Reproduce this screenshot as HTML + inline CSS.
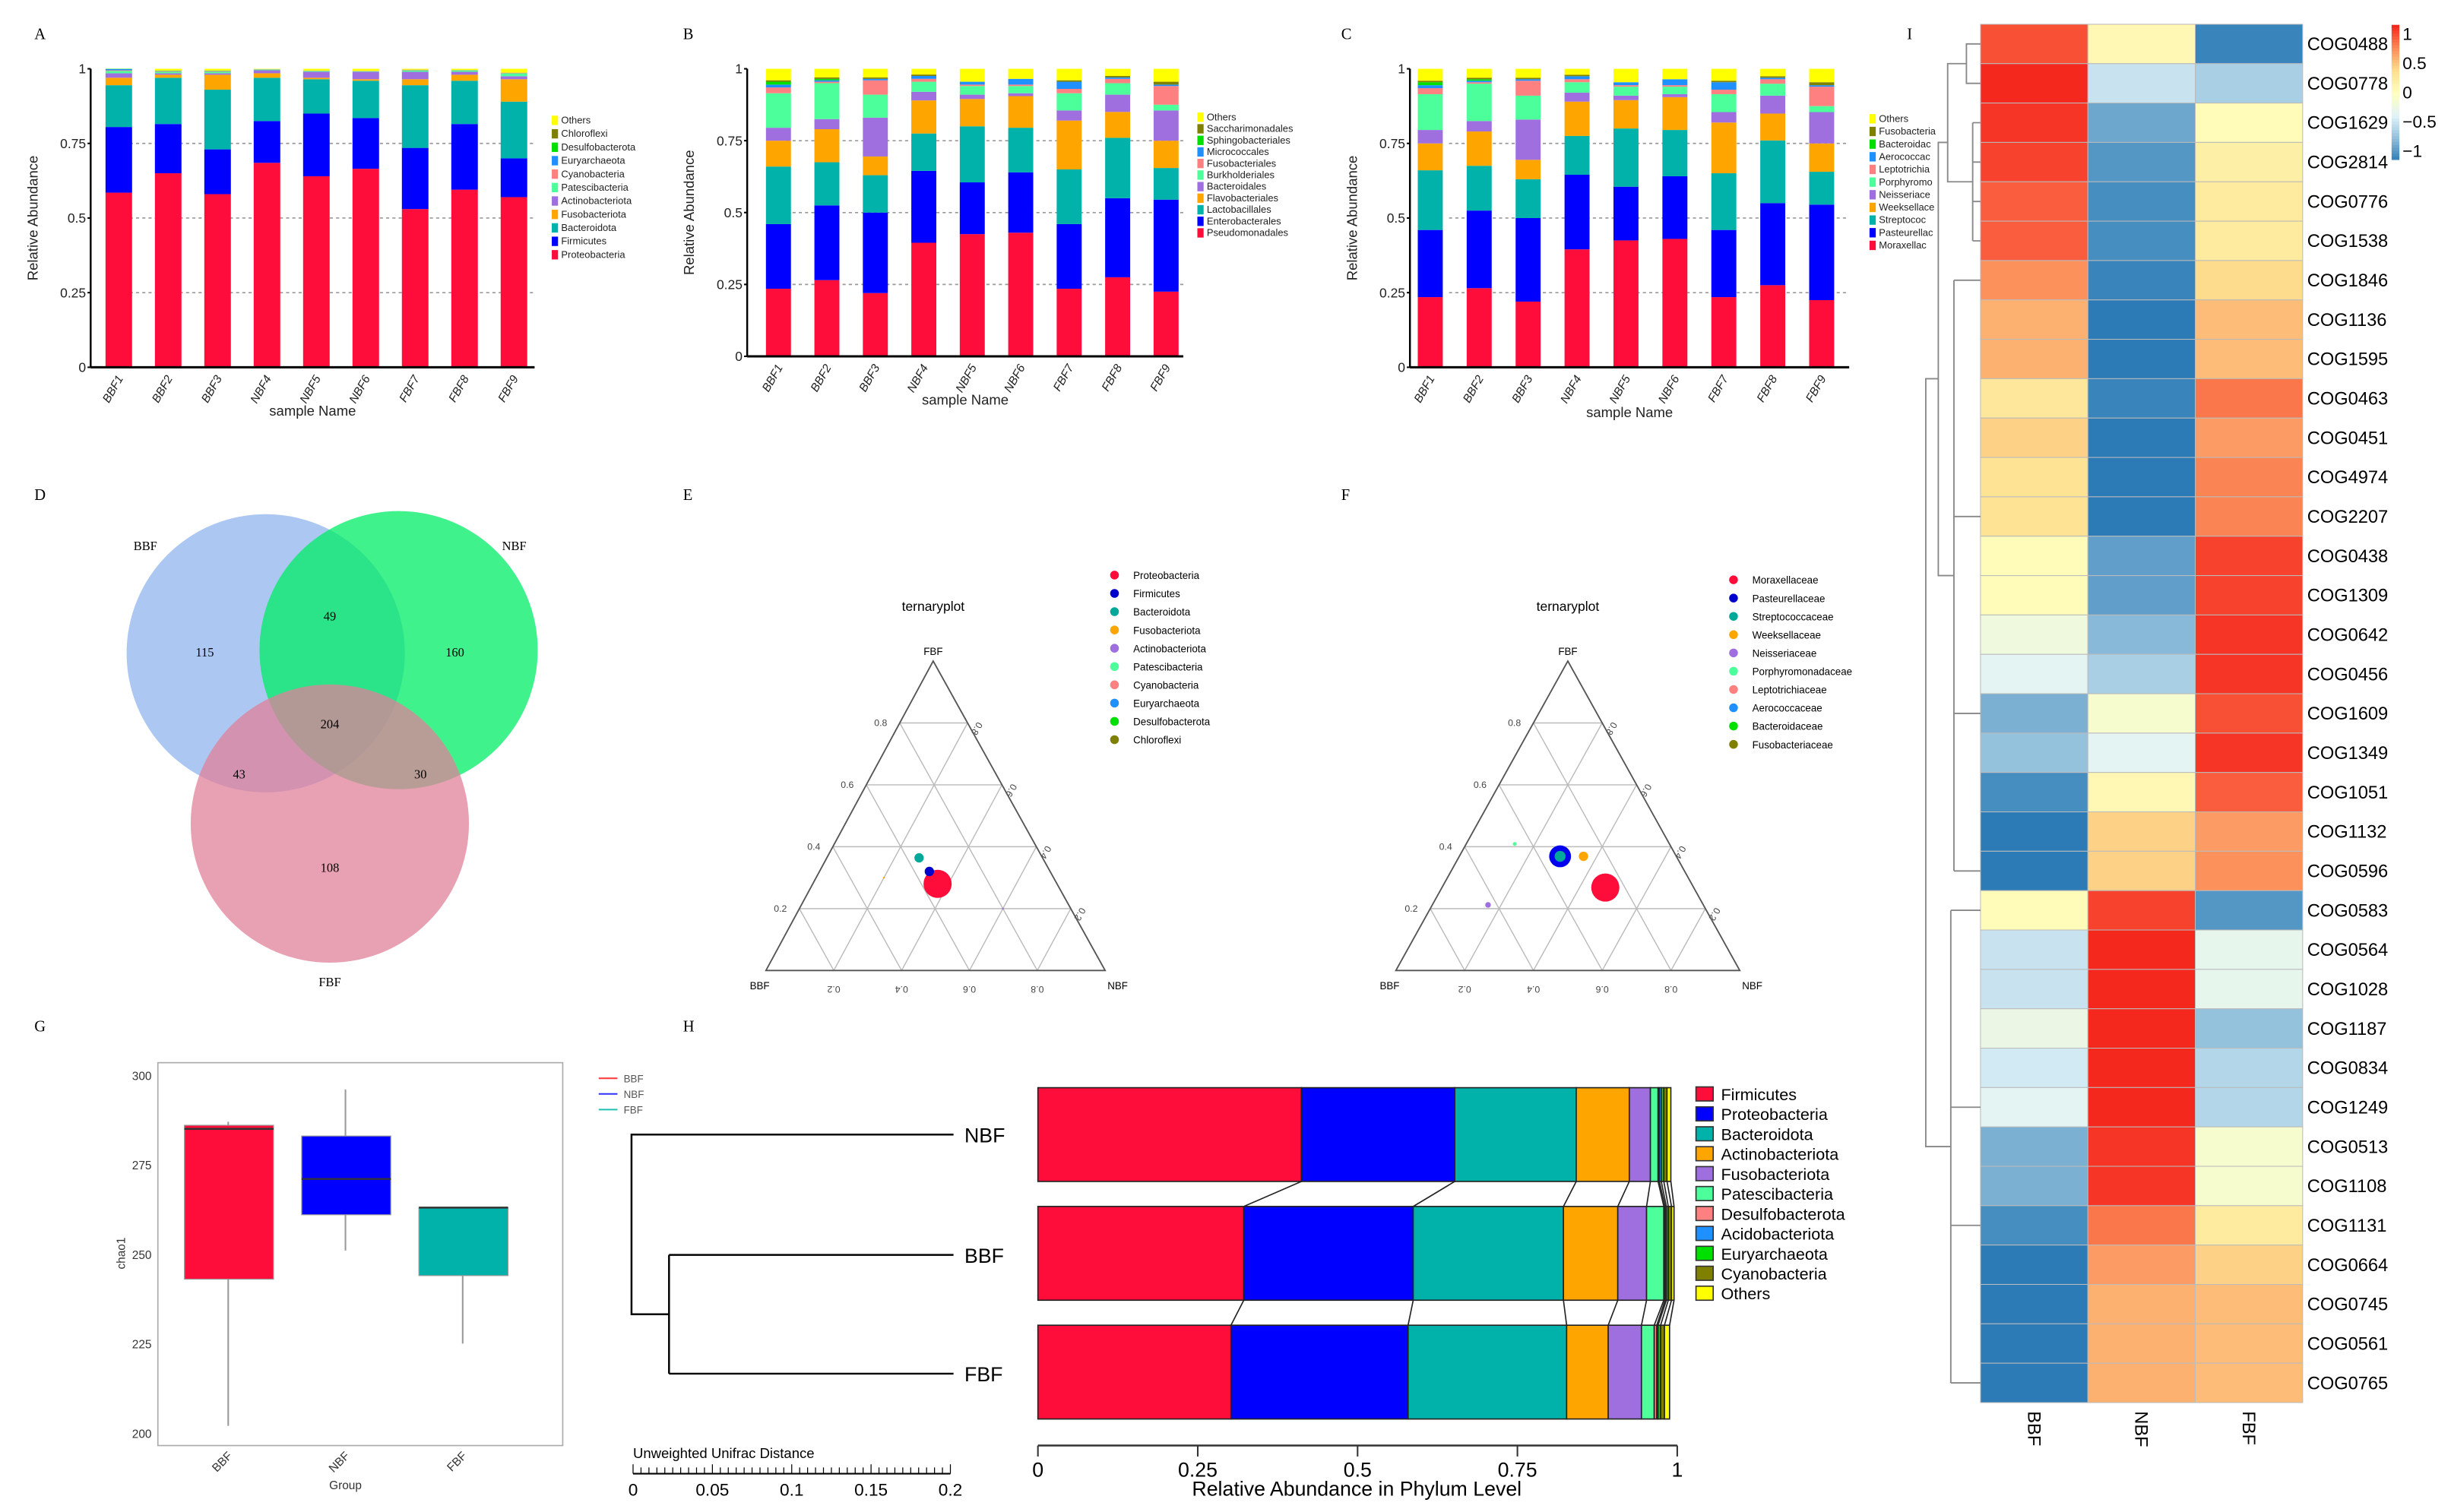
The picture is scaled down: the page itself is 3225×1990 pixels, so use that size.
<!DOCTYPE html>
<html><head><meta charset="utf-8">
<style>
html,body{margin:0;padding:0;background:#fff;}
svg{display:block;font-family:"Liberation Sans",sans-serif;}
</style></head>
<body>
<svg id="fig" xmlns="http://www.w3.org/2000/svg" width="3225" height="1990" viewBox="0 0 1568 967.5">
<rect width="1568" height="967.5" fill="#fff"/>
<g font-family="Liberation Serif,serif" font-size="10">
<text x="22" y="25">A</text>
<text x="437" y="25">B</text>
<text x="858" y="25">C</text>
<text x="1220" y="25">I</text>
<text x="22" y="320">D</text>
<text x="437" y="320">E</text>
<text x="858" y="320">F</text>
<text x="22" y="660">G</text>
<text x="437" y="660">H</text>
</g>
<g id="root"></g>
</svg>
<script>
// ---------- DATA ----------
const samples = ["BBF1","BBF2","BBF3","NBF4","NBF5","NBF6","FBF7","FBF8","FBF9"];
const phylaA = ["Proteobacteria","Firmicutes","Bacteroidota","Fusobacteriota","Actinobacteriota","Patescibacteria","Cyanobacteria","Euryarchaeota","Desulfobacterota","Chloroflexi","Others"];
const colorsA = ["#ff0d3a","#0000ff","#00b2a9","#ffa500","#9f6fdf","#4dff9a","#ff8080","#1e90ff","#00e000","#808000","#ffff00"];
const valuesA = [
 [0.585,0.22,0.14,0.025,0.015,0.008,0.002,0.004,0.001,0.0],
 [0.65,0.165,0.155,0.01,0.005,0.005,0.002,0.001,0.001,0.0],
 [0.58,0.15,0.20,0.05,0.005,0.005,0.002,0.001,0.001,0.0],
 [0.685,0.14,0.145,0.015,0.01,0.003,0.001,0.0,0.0,0.0],
 [0.64,0.21,0.115,0.005,0.02,0.003,0.001,0.0,0.0,0.0],
 [0.665,0.17,0.125,0.005,0.025,0.002,0.001,0.0,0.0,0.0],
 [0.53,0.205,0.21,0.02,0.025,0.005,0.002,0.0,0.0,0.0],
 [0.595,0.22,0.145,0.02,0.01,0.005,0.001,0.0,0.0,0.0],
 [0.57,0.13,0.19,0.075,0.01,0.01,0.002,0.0,0.0,0.0]];
const ordersB = ["Pseudomonadales","Enterobacterales","Lactobacillales","Flavobacteriales","Bacteroidales","Burkholderiales","Fusobacteriales","Micrococcales","Sphingobacteriales","Saccharimonadales","Others"];
const familiesC = ["Moraxellac","Pasteurellac","Streptococ","Weeksellace","Neisseriace","Porphyromo","Leptotrichia","Aerococcac","Bacteroidac","Fusobacteria","Others"];
const colorsB = ["#ff0d3a","#0000ff","#00b2a9","#ffa500","#9f6fdf","#4dff9a","#ff8080","#1e90ff","#00e000","#808000","#ffff00"];
const valuesB = [
 [0.235,0.225,0.20,0.09,0.045,0.12,0.02,0.01,0.01,0.005],
 [0.265,0.26,0.15,0.115,0.035,0.125,0.005,0.005,0.005,0.005],
 [0.22,0.28,0.13,0.065,0.135,0.08,0.05,0.005,0.0,0.005],
 [0.395,0.25,0.13,0.115,0.03,0.035,0.01,0.01,0.0,0.005],
 [0.425,0.18,0.195,0.095,0.015,0.03,0.005,0.01,0.0,0.0],
 [0.43,0.21,0.155,0.11,0.01,0.025,0.005,0.02,0.0,0.0],
 [0.235,0.225,0.19,0.17,0.035,0.06,0.015,0.025,0.0,0.005],
 [0.275,0.275,0.21,0.09,0.06,0.04,0.015,0.005,0.0,0.005],
 [0.225,0.32,0.11,0.095,0.105,0.02,0.065,0.005,0.0,0.01]];
const yTicks = [0,0.25,0.5,0.75,1];
const yTickLabels = ["0","0.25","0.5","0.75","1"];
// Venn
const vennLabels = ["115","49","160","204","43","30","108"];
// Ternary E
const ternLegendE = ["Proteobacteria","Firmicutes","Bacteroidota","Fusobacteriota","Actinobacteriota","Patescibacteria","Cyanobacteria","Euryarchaeota","Desulfobacterota","Chloroflexi"];
const ternColorsE = ["#ff0d3a","#0000cc","#00a89a","#ffa500","#9f6fdf","#4dff9a","#ff8080","#1e90ff","#00e000","#808000"];
// [BBF, NBF, FBF] fractions and size
const ternPtsE = [[0.352,0.368,0.28,9],[0.356,0.324,0.32,3],[0.364,0.272,0.364,3],[0.5,0.2,0.3,0.6],[0.2,0.6,0.2,0.6]];
const ternLegendF = ["Moraxellaceae","Pasteurellaceae","Streptococcaceae","Weeksellaceae","Neisseriaceae","Porphyromonadaceae","Leptotrichiaceae","Aerococcaceae","Bacteroidaceae","Fusobacteriaceae"];
const ternPtsF = [[0.257,0.475,0.268,9],[0.338,0.293,0.369,7],[0.338,0.293,0.369,3.5],[0.27,0.361,0.369,3],[0.626,0.162,0.212,1.8],[0.45,0.141,0.409,1.2]];
const ternColorsFpts = ["#ff0d3a","#0000ee","#00a89a","#ffa500","#9f6fdf","#4dff9a"];
// Boxplot G
const groups = ["BBF","NBF","FBF"];
const boxColors = ["#ff0d3a","#0000ff","#00b2a9"];
const boxMin = [202,251,225];
const boxQ1 = [243,261,244];
const boxMed = [285,271,263];
const boxQ3 = [286,283,263];
const boxMax = [287,296,263];
const chaoTicks = [200,225,250,275,300];
// H
const hGroups = ["NBF","BBF","FBF"];
const hPhyla = ["Firmicutes","Proteobacteria","Bacteroidota","Actinobacteriota","Fusobacteriota","Patescibacteria","Desulfobacterota","Acidobacteriota","Euryarchaeota","Cyanobacteria","Others"];
const hColors = ["#ff0d3a","#0000ff","#00b2a9","#ffa500","#9f6fdf","#4dff9a","#ff8080","#1e90ff","#00e000","#808000","#ffff00"];
const hValues = [
 [0.412,0.24,0.19,0.083,0.033,0.012,0.002,0.003,0.004,0.005,0.006],
 [0.322,0.265,0.235,0.085,0.045,0.027,0.002,0.002,0.003,0.005,0.004],
 [0.302,0.277,0.248,0.065,0.052,0.02,0.004,0.002,0.004,0.006,0.008]];
const hTicks = [0,0.25,0.5,0.75,1];
const distTicks = [0,0.05,0.1,0.15,0.2];
// Heatmap I
const cogs = ["COG0488","COG0778","COG1629","COG2814","COG0776","COG1538","COG1846","COG1136","COG1595","COG0463","COG0451","COG4974","COG2207","COG0438","COG1309","COG0642","COG0456","COG1609","COG1349","COG1051","COG1132","COG0596","COG0583","COG0564","COG1028","COG1187","COG0834","COG1249","COG0513","COG1108","COG1131","COG0664","COG0745","COG0561","COG0765"];
const heatBBF = [1.0,1.15,1.1,1.05,0.95,0.95,0.75,0.6,0.6,0.3,0.45,0.35,0.35,0.05,0.05,-0.2,-0.35,-0.85,-0.75,-1.05,-1.15,-1.15,0.05,-0.5,-0.5,-0.25,-0.45,-0.35,-0.85,-0.85,-1.05,-1.15,-1.15,-1.15,-1.15];
const heatNBF = [0.1,-0.5,-0.9,-1.0,-1.05,-1.05,-1.1,-1.15,-1.15,-1.1,-1.15,-1.15,-1.15,-0.95,-0.95,-0.8,-0.65,-0.1,-0.35,0.1,0.45,0.45,1.05,1.15,1.15,1.15,1.15,1.15,1.1,1.1,0.85,0.7,0.6,0.6,0.6];
const heatFBF = [-1.1,-0.65,0.05,0.2,0.25,0.25,0.4,0.55,0.55,0.85,0.7,0.8,0.8,1.05,1.05,1.1,1.1,1.0,1.1,0.95,0.7,0.75,-1.0,-0.3,-0.3,-0.75,-0.6,-0.6,-0.1,-0.1,0.25,0.45,0.55,0.55,0.55];
const heatCols = ["BBF","NBF","FBF"];
const cbTicks = [1,0.5,0,-0.5,-1];
const cbTickLabels = ["1","0.5","0","\u22120.5","\u22121"];

// ---------- HELPERS ----------
const NS="http://www.w3.org/2000/svg";
const root=document.getElementById('root');
function el(tag,attrs,parent){const e=document.createElementNS(NS,tag);for(const k in attrs)e.setAttribute(k,attrs[k]);(parent||root).appendChild(e);return e;}
function txt(s,attrs,parent){const e=el('text',attrs,parent);e.textContent=s;return e;}

// ---------- STACKED VERTICAL BAR PANELS ----------
function stackPanel(name,axX,y0,y1,c0,step,bw,vals,colors,legend,legX,legY,legStep,xEnd,titleY){
  const g=el('g',{});
  
  
  const ys=v=>y0-(y0-y1)*v;
  const xs=i=>c0+i*step;
  yTicks.forEach((t,k)=>{
    if(t>0&&t<1){const gl=el('line',{x1:axX+25,x2:xEnd,y1:ys(t),y2:ys(t),stroke:'#999','stroke-dasharray':'2,2','stroke-width':0.8},g);
      
      }
    const tl=txt(yTickLabels[k],{x:axX-3,y:ys(t)+3,'text-anchor':'end','font-size':8.5,fill:'#222'},g);
    
    
    const tk=el('line',{x1:axX-2,x2:axX,y1:ys(t),y2:ys(t),stroke:'#000'},g);
    
    
  });
  vals.forEach((row,i)=>{
    let acc=0;
    const full=row.concat([Math.max(0,1-row.reduce((a,b)=>a+b,0))]);
    full.forEach((v,j)=>{
      if(v<=0)return;
      const r=el('rect',{x:xs(i)-bw/2,y:ys(acc+v),width:bw,height:ys(acc)-ys(acc+v),fill:colors[j]},g);
      
      
      acc+=v;
    });
    const xl=txt(samples[i],{x:xs(i)+3,y:y0+7,'text-anchor':'end','font-size':7.5,'font-style':'italic',transform:`rotate(-60 ${xs(i)+3} ${y0+7})`,fill:'#222'},g);
    
    
  });
  const ya=el('line',{x1:axX,x2:axX,y1:y1,y2:y0,stroke:'#000','stroke-width':1.2},g);
  
  
  const xa=el('line',{x1:axX,x2:xEnd,y1:y0,y2:y0,stroke:'#000','stroke-width':1.5},g);
  
  
  const xt=txt('sample Name',{x:(axX+xEnd)/2,y:titleY,'text-anchor':'middle','font-size':9,fill:'#222'},g);
  
  
  const yt=txt('Relative Abundance',{x:axX-34,y:(y0+y1)/2,'text-anchor':'middle','font-size':9,transform:`rotate(-90 ${axX-34} ${(y0+y1)/2})`,fill:'#222'},g);
  
  
  for(let j=legend.length-1;j>=0;j--){
    const k=legend.length-1-j;
    const y=legY+k*legStep;
    const sw=el('rect',{x:legX,y:y-5,width:4,height:6,fill:colors[j]},g);
    
    
    const lt=txt(legend[j],{x:legX+6,y:y,'font-size':6.3,fill:'#222'},g);
    
    
  }
}
stackPanel('panel-a-phylum-bars',58,235,44,76,31.6,17,valuesA,colorsA,phylaA,353,79,8.6,342,266);
stackPanel('panel-b-order-bars',478,228,44,498,31,16,valuesB,colorsB,ordersB,766,77,7.4,757,259);
stackPanel('panel-c-family-bars',902,235,44,915,31.3,16,valuesB,colorsB,familiesC,1196,78,8.1,1183,267);

// ---------- VENN ----------
(function(){
  const g=el('g',{});
  
  
  const circ=[[170,418,'#8fb4ee','BBF'],[255,416,'#00ee66','NBF'],[211,527,'#e0809a','FBF']];
  circ.forEach(c=>{const e=el('circle',{cx:c[0],cy:c[1],r:89,fill:c[2],'fill-opacity':0.75},g);
    
    });
  const pos=[[131,420],[211,397],[291,420],[211,466],[153,498],[269,498],[211,558]];
  vennLabels.forEach((s,i)=>{const t=txt(s,{x:pos[i][0],y:pos[i][1],'text-anchor':'middle','font-size':8,'font-family':'Liberation Serif,serif'},g);
    
    });
  [['BBF',93,352],['NBF',329,352],['FBF',211,631]].forEach(l=>{const t=txt(l[0],{x:l[1],y:l[2],'text-anchor':'middle','font-size':8,'font-family':'Liberation Serif,serif'},g);
    
    });
})();

// ---------- TERNARY ----------
function ternary(name,top,left,right,pts,ptColors,legend,legColors,legX,legY){
  const g=el('g',{});
  
  
  const P=(b,n,f)=>[b*left[0]+n*right[0]+f*top[0], b*left[1]+n*right[1]+f*top[1]];
  [0.2,0.4,0.6,0.8].forEach(t=>{
    const segs=[[P(t,1-t,0),P(t,0,1-t)],[P(1-t,t,0),P(0,t,1-t)],[P(1-t,0,t),P(0,1-t,t)]];
    segs.forEach(s=>{const l=el('line',{x1:s[0][0],y1:s[0][1],x2:s[1][0],y2:s[1][1],stroke:'#bbb','stroke-width':0.7},g);
      
      });
    const a=P(1-t,0,t);
    const tl=txt(String(t),{x:a[0]-8,y:a[1]+2,'font-size':6,'text-anchor':'end',fill:'#444'},g);
    
    
    const b=P(0,1-t,t);
    const tr=txt(String(t),{x:b[0]+8,y:b[1]+2,'font-size':6,fill:'#444',transform:`rotate(120 ${b[0]+8} ${b[1]})`},g);
    
    
    const c=P(1-t,t,0);
    const tb=txt(String(t),{x:c[0],y:c[1]+14,'font-size':6,'text-anchor':'middle',fill:'#444',transform:`rotate(180 ${c[0]} ${c[1]+12})`},g);
    
    
  });
  const tri=el('polygon',{points:[top,left,right].map(p=>p.join(',')).join(' '),fill:'none',stroke:'#555','stroke-width':0.9},g);
  
  
  pts.forEach((p,i)=>{const q=P(p[0],p[1],p[2]);
    const c=el('circle',{cx:q[0],cy:q[1],r:p[3],fill:ptColors[i%ptColors.length]},g);
    
    });
  const t1=txt('ternaryplot',{x:top[0],y:top[1]-32,'text-anchor':'middle','font-size':8.5},g);
  
  
  [['FBF',top[0],top[1]-4],['BBF',left[0]-4,left[1]+12],['NBF',right[0]+8,right[1]+12]].forEach(l=>{
    const t=txt(l[0],{x:l[1],y:l[2],'text-anchor':'middle','font-size':6.5},g);
    
    });
  legend.forEach((s,i)=>{
    const c=el('circle',{cx:legX,cy:legY+i*11.7,r:2.8,fill:legColors[i]},g);
    
    
    const t=txt(s,{x:legX+12,y:legY+i*11.7+2.5,'font-size':6.5},g);
    
    
  });
}
ternary('panel-e-ternary',[597,423],[490,621],[707,621],ternPtsE,ternColorsE,ternLegendE,ternColorsE,713,368);
ternary('panel-f-ternary',[1003,423],[893,621],[1113,621],ternPtsF,ternColorsFpts,ternLegendF,ternColorsE,1109,371);

// ---------- BOXPLOT G ----------
(function(){
  const g=el('g',{});
  
  
  const ys=v=>917-(v-200)*2.29;
  const xs=i=>146+i*75;
  const fr=el('rect',{x:101,y:680,width:259,height:245,fill:'none',stroke:'#aaa','stroke-width':0.8},g);
  
  
  chaoTicks.forEach(t=>{const l=txt(String(t),{x:97,y:ys(t)+3,'text-anchor':'end','font-size':7.5,fill:'#333'},g);
    
    });
  groups.forEach((n,i)=>{
    const w=el('line',{x1:xs(i),x2:xs(i),y1:ys(boxMin[i]),y2:ys(boxMax[i]),stroke:'#999','stroke-width':1},g);
    
    
    const b=el('rect',{x:xs(i)-28,y:ys(boxQ3[i]),width:57,height:ys(boxQ1[i])-ys(boxQ3[i]),fill:boxColors[i],stroke:'#999','stroke-width':0.6},g);
    
    
    const m=el('line',{x1:xs(i)-28,x2:xs(i)+29,y1:ys(boxMed[i]),y2:ys(boxMed[i]),stroke:'#333','stroke-width':1.2},g);
    
    
    const t=txt(n,{x:xs(i)+3,y:932,'text-anchor':'end','font-size':7.5,transform:`rotate(-45 ${xs(i)+3} 932)`,fill:'#333'},g);
    
    
  });
  const xt=txt('Group',{x:221,y:953,'text-anchor':'middle','font-size':7.5,fill:'#333'},g);
  
  
  const yt=txt('chao1',{x:80,y:802,'text-anchor':'middle','font-size':7.5,transform:'rotate(-90 80 802)',fill:'#333'},g);
  
  
})();

// ---------- H: dendrogram + horizontal stacked bars ----------
(function(){
  const g=el('g',{});
  
  
  [['BBF','#ff4040',690],['NBF','#3030ff',700],['FBF','#20c0b0',710]].forEach(l=>{
    const ln=el('line',{x1:383,x2:395,y1:l[2],y2:l[2],stroke:l[1]},g);
    
    
    const t=txt(l[0],{x:399,y:l[2]+2.5,'font-size':6.5,fill:'#555'},g);
    
    });
  const yRow=[726,803,879];
  const tree=el('path',{d:'M610,726 H404 V841 H428 M428,803 V879 M428,803 H610 M428,879 H610',fill:'none',stroke:'#000','stroke-width':1.2},g);
  
  
  hGroups.forEach((n,i)=>{const t=txt(n,{x:617,y:yRow[i]+5,'font-size':13},g);
    
    });
  const sx=d=>405+d*(203/0.2);
  const sl=el('line',{x1:sx(0),x2:sx(0.2),y1:943,y2:943,stroke:'#000'},g);
  
  
  for(let k=0;k<=40;k++){const tk=el('line',{x1:sx(k*0.005),x2:sx(k*0.005),y1:943,y2:k%10==0?937:939,stroke:'#000','stroke-width':0.6},g);
    
    }
  distTicks.forEach(d=>{const t=txt(String(d),{x:sx(d),y:957,'text-anchor':'middle','font-size':11},g);
    
    });
  const dt=txt('Unweighted Unifrac Distance',{x:405,y:933,'font-size':9},g);
  
  
  const xs=v=>664+v*409;
  const yTop=[696,772,848], bh=60;
  const cums=hValues.map(r=>{let a=0;return r.map(v=>(a+=v));});
  hValues.forEach((row,i)=>{
    let acc=0;
    row.forEach((v,j)=>{
      const r=el('rect',{x:xs(acc),y:yTop[i],width:xs(acc+v)-xs(acc),height:bh,fill:hColors[j],stroke:'#222','stroke-width':0.8},g);
      
      
      acc+=v;
    });
  });
  for(let i=0;i<2;i++){cums[i].forEach((c,j)=>{
    const l=el('line',{x1:xs(Math.min(c,1)),y1:yTop[i]+bh,x2:xs(Math.min(cums[i+1][j],1)),y2:yTop[i+1],stroke:'#222','stroke-width':0.8},g);
    
    });}
  const ax=el('line',{x1:xs(0),x2:xs(1),y1:925,y2:925,stroke:'#333','stroke-width':1.2},g);
  
  
  hTicks.forEach(t=>{const tk=el('line',{x1:xs(t),x2:xs(t),y1:925,y2:932,stroke:'#333'},g);
    
    
    const tl=txt(String(t),{x:xs(t),y:945,'text-anchor':'middle','font-size':13},g);
    
    });
  const xt=txt('Relative Abundance in Phylum Level',{x:868,y:957,'text-anchor':'middle','font-size':13},g);
  
  
  hPhyla.forEach((p,j)=>{const y=700+j*12.75;
    const sw=el('rect',{x:1085,y:y-4.5,width:11,height:9,fill:hColors[j],stroke:'#333','stroke-width':0.8},g);
    
    
    const t=txt(p,{x:1101,y:y+4,'font-size':10.5},g);
    
    });
})();

// ---------- HEATMAP I ----------
(function(){
  const g=el('g',{});
  
  
  const stops=["#2c7bb6","#91bfdb","#e0f3f8","#ffffbf","#fee090","#fc8d59","#f5281e"];
  function hex(h){return [1,3,5].map(k=>parseInt(h.substr(k,2),16));}
  function cmap(v){let t=(Math.max(-1.15,Math.min(1.15,v))+1.15)/2.3*(stops.length-1);
    const i=Math.min(stops.length-2,Math.floor(t)),f=t-i;const a=hex(stops[i]),b=hex(stops[i+1]);
    return 'rgb('+a.map((x,k)=>Math.round(x+(b[k]-x)*f)).join(',')+')';}
  const x0=1267,cw=68.7,y0=15.5,rh=25.2;
  const cols=[heatBBF,heatNBF,heatFBF];
  cogs.forEach((c,r)=>{
    cols.forEach((col,k)=>{
      const e=el('rect',{x:x0+k*cw,y:y0+r*rh,width:cw,height:rh,fill:cmap(col[r]),stroke:'#bbb','stroke-width':0.5},g);
      
      
    });
    const t=txt(c,{x:1476,y:y0+r*rh+rh/2+4,'font-size':11.5},g);
    
    
  });
  heatCols.forEach((c,k)=>{const cx=x0+k*cw+cw/2;
    const t=txt(c,{x:cx-4,y:903,'font-size':11.5,transform:`rotate(90 ${cx-4} 903)`},g);
    
    });
  const cbY=v=>59-v*37.5;
  for(let k=0;k<46;k++){const v=1.15-k*0.05;
    const r=el('rect',{x:1530,y:cbY(v),width:5,height:2.1,fill:cmap(v)},g);
    
    }
  cbTicks.forEach((v,i)=>{const t=txt(cbTickLabels[i],{x:1537,y:cbY(v)+4,'font-size':11},g);
    
    });
  const yc=r=>y0+r*rh+rh/2;
  const d='M1267,'+yc(0)+' H1258 V'+yc(1)+' H1267 '+
    'M1258,'+((yc(0)+yc(1))/2)+' H1246 V'+((yc(2)+yc(5))/2)+' H1262 '+
    'M1262,'+yc(2)+' V'+yc(5)+' M1262,'+yc(2)+' H1267 M1262,'+yc(3)+' H1267 M1262,'+yc(4)+' H1267 M1262,'+yc(5)+' H1267 '+
    'M1246,'+((yc(0)+yc(5))/2)+' H1240 V'+((yc(6)+yc(21))/2)+' H1250 '+
    'M1250,'+yc(6)+' V'+yc(21)+' M1250,'+yc(6)+' H1267 M1250,'+yc(12)+' H1267 M1250,'+yc(17)+' H1267 M1250,'+yc(21)+' H1267 '+
    'M1240,'+((yc(2)+yc(15))/2)+' H1232 V'+((yc(22)+yc(34))/2)+' H1248 '+
    'M1248,'+yc(22)+' V'+yc(34)+' M1248,'+yc(22)+' H1267 M1248,'+yc(27)+' H1267 M1248,'+yc(30)+' H1267 M1248,'+yc(34)+' H1267';
  const p=el('path',{d:d,fill:'none',stroke:'#888','stroke-width':0.9},g);
  
  
})();
</script>
</body></html>
